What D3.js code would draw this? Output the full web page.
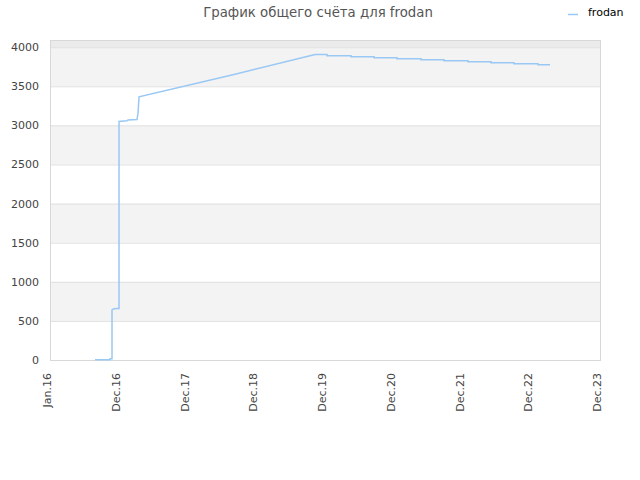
<!DOCTYPE html>
<meta charset='utf-8'>
<style type="text/css">
	body { margin: 0; background: #fff; }
	text { font-family: "DejaVu Sans", sans-serif; }
</style>
<body>
<div class="chart"></div>
<script src='https://cdn.jsdelivr.net/npm/d3@7/dist/d3.min.js'></script>
<script>

// x positions are in tick-slot units (0 = Jan.16, 1 = Dec.16, ... 8 = Dec.23)
var tickLabels = ['Jan.16', 'Dec.16', 'Dec.17', 'Dec.18', 'Dec.19', 'Dec.20', 'Dec.21', 'Dec.22', 'Dec.23'];
var yTicks = [0, 500, 1000, 1500, 2000, 2500, 3000, 3500, 4000];
var grayBands = [[500, 1000], [1500, 2000], [2500, 3000], [3500, 4000]];

var scoreX = [0.655, 0.873, 0.873, 0.902, 0.902, 0.931, 0.989, 1.004, 1.004, 1.12, 1.135, 1.265, 1.28, 1.295,
	2.691, 3.855,
	4.029, 4.029, 4.378, 4.378, 4.713, 4.713, 5.047, 5.047, 5.396, 5.396, 5.731, 5.731,
	6.08, 6.08, 6.415, 6.415, 6.749, 6.749, 7.098, 7.098, 7.273];
var scoreY = [2, 2, 15, 15, 640, 655, 660, 660, 3050, 3060, 3070, 3075, 3150, 3365,
	3655, 3905,
	3905, 3891, 3891, 3879, 3879, 3866, 3866, 3853, 3853, 3840, 3840, 3827,
	3827, 3814, 3814, 3802, 3802, 3789, 3789, 3776, 3776];

var width = 640, height = 480;
var margin = {left: 50, right: 40, top: 40, bottom: 120};

var svg = d3.select('.chart')
	.append('svg')
	.attr('width', width)
	.attr('height', height);

var x = d3.scaleLinear()
	.domain([0, tickLabels.length - 1])
	.range([margin.left, width - margin.right]);

var y = d3.scaleLinear()
	.domain([0, 4092])
	.range([height - margin.bottom, margin.top]);

// top strip above 4000
svg.append('rect')
	.attr('x', x(0))
	.attr('y', y(4092))
	.attr('width', x(8) - x(0))
	.attr('height', y(4000) - y(4092))
	.attr('fill', '#ebebeb');

svg.selectAll('.band')
	.data(grayBands)
	.enter().append('rect')
	.attr('class', 'band')
	.attr('x', x(0))
	.attr('y', function(d){ return y(d[1]); })
	.attr('width', x(8) - x(0))
	.attr('height', function(d){ return y(d[0]) - y(d[1]); })
	.attr('fill', '#f3f3f3');

svg.selectAll('.grid')
	.data(yTicks)
	.enter().append('line')
	.attr('class', 'grid')
	.attr('x1', x(0))
	.attr('x2', x(8))
	.attr('y1', function(d){ return y(d) + 0.5; })
	.attr('y2', function(d){ return y(d) + 0.5; })
	.attr('stroke', '#e0e0e0');

svg.append('rect')
	.attr('x', x(0) + 0.5)
	.attr('y', y(4092) + 0.5)
	.attr('width', x(8) - x(0))
	.attr('height', y(0) - y(4092))
	.attr('fill', 'none')
	.attr('stroke', '#d8d8d8');

// y labels
svg.selectAll('.ylab')
	.data(yTicks)
	.enter().append('text')
	.attr('class', 'ylab')
	.attr('x', x(0) - 11)
	.attr('y', function(d){ return y(d) + 4; })
	.attr('text-anchor', 'end')
	.attr('font-size', 11)
	.attr('fill', '#444')
	.text(function(d){ return d; });

// x labels, rotated
svg.selectAll('.xlab')
	.data(tickLabels)
	.enter().append('text')
	.attr('class', 'xlab')
	.attr('transform', function(d, i){ return 'translate(' + (x(i) + 1) + ',' + (y(0) + 13) + ') rotate(-90)'; })
	.attr('text-anchor', 'end')
	.attr('font-size', 11)
	.attr('fill', '#444')
	.text(function(d){ return d; });

var line = d3.line()
	.x(function(d){ return x(d[0]); })
	.y(function(d){ return y(d[1]); });

svg.append('path')
	.datum(d3.zip(scoreX, scoreY))
	.attr('d', line)
	.attr('fill', 'none')
	.attr('stroke', '#99c8f5')
	.attr('stroke-width', 1.5);

// title
svg.append('text')
	.attr('x', 318)
	.attr('y', 17)
	.attr('text-anchor', 'middle')
	.attr('font-size', 13.3)
	.attr('fill', '#555')
	.text('График общего счёта для frodan');

// legend
svg.append('line')
	.attr('x1', 568).attr('x2', 578)
	.attr('y1', 14.5).attr('y2', 14.5)
	.attr('stroke', '#99c8f5')
	.attr('stroke-width', 1.5);

svg.append('text')
	.attr('x', 588)
	.attr('y', 16)
	.attr('font-size', 11)
	.attr('fill', '#000')
	.text('frodan');

</script>
</body>
</html>
